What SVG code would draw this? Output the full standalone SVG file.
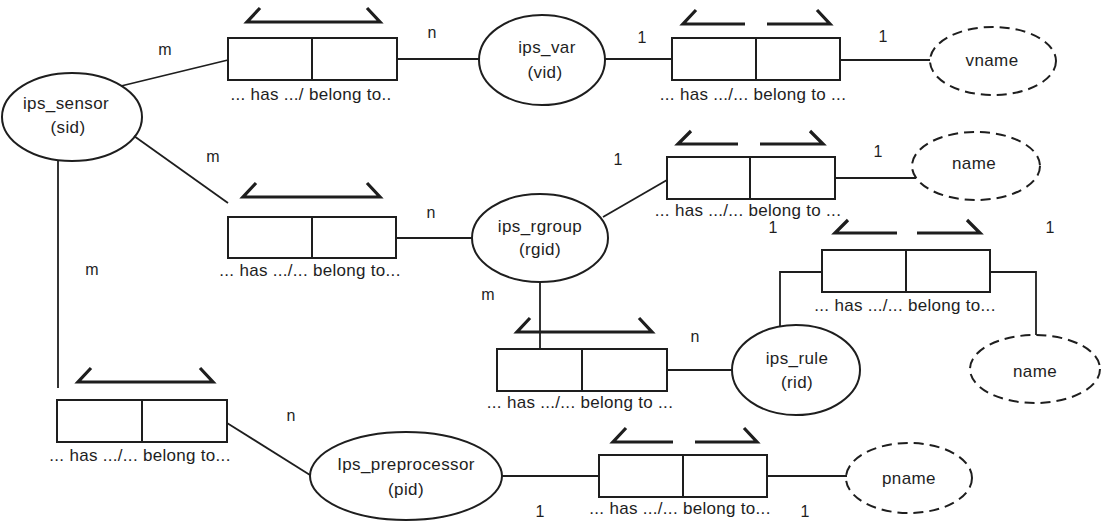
<svg xmlns="http://www.w3.org/2000/svg" width="1103" height="524" viewBox="0 0 1103 524">
<style>
.bg{fill:#ffffff}
.ent{fill:none;stroke:#1e1e1e;stroke-width:2}
.attr{fill:none;stroke:#1e1e1e;stroke-width:2;stroke-dasharray:10 6}
.box{fill:#fff;stroke:#1e1e1e;stroke-width:2}
.div{stroke:#1e1e1e;stroke-width:2}
.br{fill:none;stroke:#1e1e1e;stroke-width:3.2;stroke-linejoin:miter}
.ln{fill:none;stroke:#1e1e1e;stroke-width:1.8}
text{font-family:"Liberation Sans",Arial,sans-serif;fill:#1e1e1e;text-anchor:middle}
.t{font-size:17px;letter-spacing:0.4px}
.lb{font-size:17px;letter-spacing:0.3px}
.c{font-size:16px}
</style>
<rect class="bg" x="0" y="0" width="1103" height="524"/>

<g id="connectors">
<line class="ln" x1="121" y1="86" x2="228" y2="60"/>
<line class="ln" x1="397" y1="59" x2="479" y2="59"/>
<line class="ln" x1="605" y1="59" x2="672" y2="59"/>
<line class="ln" x1="840" y1="60" x2="930" y2="60"/>
<line class="ln" x1="134" y1="136" x2="228" y2="203"/>
<line class="ln" x1="396" y1="238" x2="472" y2="238"/>
<line class="ln" x1="603" y1="217" x2="667" y2="180"/>
<line class="ln" x1="835" y1="178" x2="916" y2="178"/>
<line class="ln" x1="540" y1="282" x2="540" y2="349"/>
<line class="ln" x1="667" y1="370" x2="732" y2="370"/>
<polyline class="ln" points="780,327 780,272 822,272"/>
<polyline class="ln" points="990,272 1036,272 1036,335"/>
<line class="ln" x1="58" y1="160" x2="58" y2="388"/>
<line class="ln" x1="227" y1="423" x2="310" y2="475"/>
<line class="ln" x1="502" y1="476" x2="599" y2="476"/>
<line class="ln" x1="767" y1="476" x2="847" y2="476"/>
</g>

<g id="cardinalities">
<text class="c" x="165" y="55">m</text>
<text class="c" x="432" y="38">n</text>
<text class="c" x="642" y="43">1</text>
<text class="c" x="883" y="42">1</text>
<text class="c" x="213" y="162">m</text>
<text class="c" x="431" y="218">n</text>
<text class="c" x="92" y="275">m</text>
<text class="c" x="618" y="165">1</text>
<text class="c" x="878" y="157">1</text>
<text class="c" x="773" y="233">1</text>
<text class="c" x="1050" y="233">1</text>
<text class="c" x="488" y="300">m</text>
<text class="c" x="695" y="342">n</text>
<text class="c" x="291" y="421">n</text>
<text class="c" x="540" y="517">1</text>
<text class="c" x="805" y="517">1</text>
</g>

<g id="ips_sensor">
<ellipse class="ent" cx="72" cy="117" rx="70" ry="44"/>
<text class="t" x="66" y="109">ips_sensor</text>
<text class="t" x="68" y="133">(sid)</text>
</g>
<g id="ips_var">
<ellipse class="ent" cx="542" cy="60" rx="63" ry="45"/>
<text class="t" x="547" y="53">ips_var</text>
<text class="t" x="545" y="78">(vid)</text>
</g>
<g id="ips_rgroup">
<ellipse class="ent" cx="540" cy="238" rx="68" ry="44"/>
<text class="t" x="540" y="232">ips_rgroup</text>
<text class="t" x="540" y="255">(rgid)</text>
</g>
<g id="ips_rule">
<ellipse class="ent" cx="796" cy="370" rx="64" ry="45"/>
<text class="t" x="797" y="364">ips_rule</text>
<text class="t" x="797" y="388">(rid)</text>
</g>
<g id="ips_preprocessor">
<ellipse class="ent" cx="406" cy="476" rx="96" ry="44"/>
<text class="t" x="406" y="470">Ips_preprocessor</text>
<text class="t" x="406" y="495">(pid)</text>
</g>
<g id="vname">
<ellipse class="attr" cx="993" cy="61" rx="63" ry="34"/>
<text class="t" x="992" y="66">vname</text>
</g>
<g id="name1">
<ellipse class="attr" cx="976" cy="166" rx="64" ry="34"/>
<text class="t" x="974" y="169">name</text>
</g>
<g id="name2">
<ellipse class="attr" cx="1035" cy="369" rx="65" ry="34"/>
<text class="t" x="1035" y="377">name</text>
</g>
<g id="pname">
<ellipse class="attr" cx="909" cy="478" rx="63" ry="35"/>
<text class="t" x="909" y="484">pname</text>
</g>

<g id="rel1">
<rect class="box" x="228" y="38" width="169" height="42"/>
<line class="div" x1="312" y1="38" x2="312" y2="80"/>
<polyline class="br" points="260,8 247,22 380,22 367,8"/>
<text class="lb" x="311" y="100">... has .../ belong to..</text>
</g>
<g id="rel2">
<rect class="box" x="672" y="38" width="168" height="42"/>
<line class="div" x1="756" y1="38" x2="756" y2="80"/>
<polyline class="br" points="696,10 683,24 745,24"/>
<polyline class="br" points="767,24 830,24 817,10"/>
<text class="lb" x="753" y="100">... has .../... belong to ...</text>
</g>
<g id="rel3">
<rect class="box" x="228" y="217" width="168" height="41"/>
<line class="div" x1="312" y1="217" x2="312" y2="258"/>
<polyline class="br" points="256,183 243,197 380,197 367,183"/>
<text class="lb" x="310" y="276">... has .../... belong to...</text>
</g>
<g id="rel4">
<rect class="box" x="667" y="157" width="168" height="42"/>
<line class="div" x1="750" y1="157" x2="750" y2="199"/>
<polyline class="br" points="691,131 678,144 738,144"/>
<polyline class="br" points="760,144 823,144 810,131"/>
<text class="lb" x="748" y="216">... has .../... belong to ...</text>
</g>
<g id="rel5">
<rect class="box" x="497" y="349" width="170" height="42"/>
<line class="div" x1="582" y1="349" x2="582" y2="391"/>
<polyline class="br" points="530,318 517,332 652,332 639,318"/>
<text class="lb" x="580" y="408">... has .../... belong to ...</text>
</g>
<g id="rel6">
<rect class="box" x="822" y="250" width="168" height="42"/>
<line class="div" x1="906" y1="250" x2="906" y2="292"/>
<polyline class="br" points="848,220 835,233 897,233"/>
<polyline class="br" points="917,233 980,233 967,220"/>
<text class="lb" x="905" y="311">... has .../... belong to...</text>
</g>
<g id="rel7">
<rect class="box" x="599" y="455" width="168" height="42"/>
<line class="div" x1="683" y1="455" x2="683" y2="497"/>
<polyline class="br" points="626,428 613,442 673,442"/>
<polyline class="br" points="695,442 757,442 744,428"/>
<text class="lb" x="680" y="514">... has .../... belong to...</text>
</g>
<g id="rel8">
<rect class="box" x="57" y="400" width="170" height="42"/>
<line class="div" x1="142" y1="400" x2="142" y2="442"/>
<polyline class="br" points="91,368 78,382 213,382 200,368"/>
<text class="lb" x="140" y="461">... has .../... belong to...</text>
</g>
</svg>
